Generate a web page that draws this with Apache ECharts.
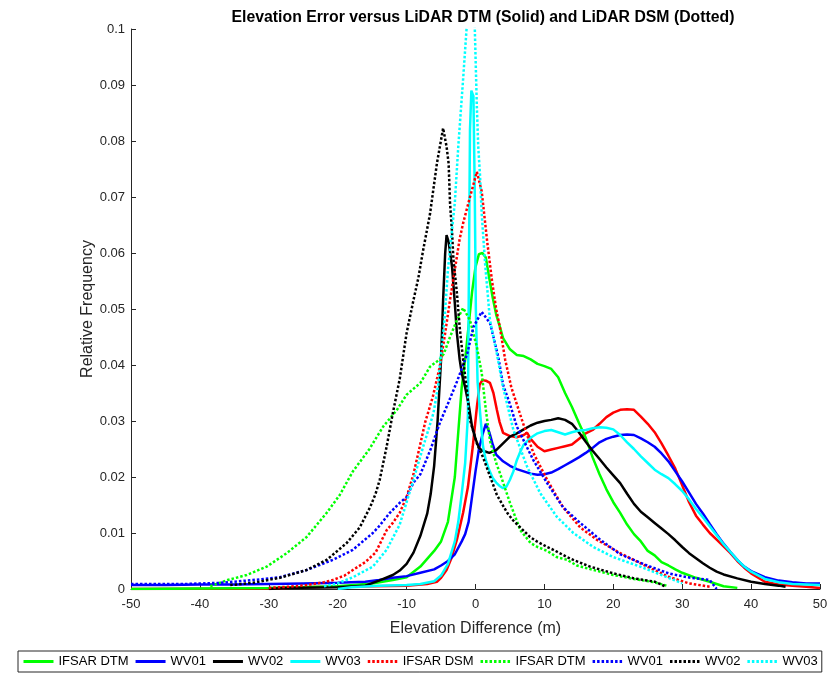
<!DOCTYPE html>
<html>
<head>
<meta charset="utf-8">
<script src="https://cdn.jsdelivr.net/npm/echarts@6/dist/echarts.min.js"></script>
<style>
html,body{margin:0;padding:0;background:#fff;}
#chart{width:838px;height:674px;}
</style>
</head>
<body>
<div id="chart"></div>
<script>
// ---- Data ----
const xTicks = [-50, -40, -30, -20, -10, 0, 10, 20, 30, 40, 50];

// IFSAR DTM vs LiDAR DTM (solid green)
const dtmIfsarX = [-50,-40,-30,-20,-15,-12,-10,-8,-6,-5,-4,-3,-2.5,-2,-1.5,-1,-0.5,0,0.5,1,1.5,2,2.5,3,3.5,4,5,6,7,8,9,10,11,12,13,14,15,16,17,18,19,20,21,22,23,24,25,26,27,28,29,30,32,34,36,38];
const dtmIfsarY = [0,0.0001,0.0002,0.0005,0.001,0.0016,0.0021,0.004,0.0068,0.0085,0.012,0.02,0.028,0.036,0.041,0.047,0.053,0.0575,0.0598,0.06,0.0592,0.0555,0.052,0.049,0.047,0.0448,0.0428,0.0418,0.0416,0.041,0.0402,0.0398,0.0393,0.0378,0.035,0.0325,0.0297,0.027,0.0235,0.0205,0.0178,0.0155,0.0136,0.0115,0.0098,0.0085,0.0068,0.006,0.0048,0.0042,0.0035,0.0029,0.002,0.0013,0.0005,0.0002];

// WV01 vs DTM (solid blue)
const dtmWv01X = [-50,-45,-40,-35,-30,-25,-20,-16,-14,-12,-10,-8,-6,-5,-4,-3,-2,-1.5,-1,-0.5,0,0.5,1,1.5,2,2.5,3,4,5,6,7,8,9,10,11,12,13,14,15,16,17,18,19,20,21,22,23,24,25,26,27,28,29,30,31,32,33,34,35,36,37,38,39,40,42,44,46,48,50];
const dtmWv01Y = [0.0007,0.0007,0.0008,0.0008,0.0009,0.001,0.0011,0.0013,0.0016,0.002,0.0023,0.0029,0.0035,0.0042,0.005,0.0062,0.0085,0.0098,0.012,0.0165,0.021,0.025,0.0275,0.0295,0.028,0.0258,0.024,0.0228,0.022,0.0214,0.021,0.0206,0.0204,0.0205,0.0208,0.0214,0.0221,0.0228,0.0235,0.0243,0.0252,0.0262,0.0268,0.0272,0.0275,0.0276,0.0275,0.0269,0.0262,0.0254,0.0242,0.0228,0.021,0.0192,0.0172,0.0152,0.0135,0.0116,0.0098,0.0081,0.0066,0.0052,0.004,0.0032,0.0021,0.0015,0.0012,0.001,0.001];

// WV02 vs DTM (solid black)
const dtmWv02X = [-30,-28,-20,-16,-14,-12,-11,-10,-9,-8,-7,-6.5,-6,-5.5,-5,-4.7,-4.4,-4.2,-3.9,-3.4,-3,-2.7,-2.3,-2,-1.5,-1,-0.5,0,0.5,1,1.5,2,3,4,5,6,7,8,9,10,11,12,13,14,15,16,17,18,19,20,21,22,23,24,25,26,27,28,29,30,31,32,33,34,35,36,38,40,42,44,45];
const dtmWv02Y = [0,0.0002,0.0003,0.0006,0.0015,0.0025,0.0033,0.0045,0.0065,0.0095,0.0135,0.017,0.022,0.03,0.041,0.0516,0.06,0.0632,0.062,0.0575,0.051,0.0457,0.041,0.0386,0.036,0.033,0.029,0.0268,0.0252,0.0247,0.0245,0.0243,0.0248,0.026,0.0272,0.0278,0.0285,0.0292,0.0297,0.03,0.0302,0.0305,0.0302,0.0295,0.028,0.0263,0.0247,0.0232,0.0217,0.0203,0.0189,0.017,0.0152,0.0138,0.0128,0.0118,0.0108,0.0098,0.0087,0.0075,0.0064,0.0055,0.0046,0.0038,0.0031,0.0026,0.0019,0.0013,0.0009,0.0006,0.0004];

// WV03 vs DTM (solid cyan)
const dtmWv03X = [-20,-18,-14,-10,-8,-6,-5,-4,-3,-2.5,-2,-1.5,-1.1,-0.95,-0.8,-0.6,-0.3,-0.1,0.05,0.3,0.7,1.1,1.5,2,2.5,3,3.5,4,4.5,5,5.5,6,6.5,7,8,9,10,11,12,13,14,15,16,17,18,19,20,21,22,23,24,25,26,27,28,29,30,31,32,33,34,35,36,37,38,39,40,42,44,46,48,50];
const dtmWv03Y = [0,0.0003,0.0006,0.0007,0.0009,0.0014,0.0024,0.0045,0.0085,0.012,0.017,0.0225,0.031,0.058,0.082,0.089,0.088,0.07,0.05,0.037,0.031,0.0254,0.023,0.0212,0.0198,0.019,0.0184,0.018,0.0183,0.0195,0.021,0.023,0.0245,0.0258,0.027,0.0278,0.0282,0.0284,0.028,0.0276,0.028,0.0283,0.0284,0.0287,0.0289,0.0288,0.0285,0.0275,0.0262,0.025,0.0237,0.0225,0.0213,0.0205,0.0198,0.0187,0.0175,0.016,0.0143,0.0128,0.0112,0.0096,0.008,0.0066,0.0052,0.004,0.0031,0.0018,0.0012,0.0009,0.0008,0.0007];

// IFSAR DSM vs DTM (solid red, not in legend)
const dtmIfsarDsmX = [-50,-30,-25,-20,-15,-10,-7,-5.6,-5,-4.2,-3.5,-2.7,-1.8,-1.1,-0.4,0.2,0.6,1,1.5,2.1,2.6,3.1,3.5,4,5,6,7,7.5,8,9,10,11,12,13,14,15,16,17,18,19,20,21,22,23,24,25,26,27,28,29,30,31,32,33,34,35,36,37,38,39,40,42,44,46,48,50];
const dtmIfsarDsmY = [0,0.0001,0.0003,0.0004,0.0005,0.0006,0.0009,0.0013,0.002,0.0034,0.0055,0.0088,0.0136,0.0182,0.0254,0.0325,0.0365,0.0373,0.0372,0.0368,0.035,0.032,0.0298,0.0279,0.0273,0.0271,0.0275,0.0279,0.0268,0.0254,0.0246,0.0249,0.0252,0.0255,0.0258,0.0268,0.0278,0.0284,0.0295,0.0307,0.0315,0.032,0.0321,0.032,0.0308,0.0295,0.028,0.026,0.0238,0.0215,0.0185,0.0155,0.0131,0.0115,0.01,0.0088,0.0076,0.0064,0.005,0.0038,0.0028,0.0013,0.0008,0.0006,0.0004,0.0002];

// IFSAR DSM vs LiDAR DSM (dotted red)
const dsmIfsarDsmX = [-30,-26,-24.5,-22,-20.7,-19,-17.8,-16,-14.5,-12.9,-12,-11,-10,-9,-8.1,-7.3,-6.2,-5.2,-4.4,-3.7,-3,-2.3,-1.8,-0.8,0.2,0.9,1.7,2.4,3,3.5,4.3,5.2,6.9,8.4,10.4,12.7,15.2,17.6,21,24.9,28,31,34];
const dsmIfsarDsmY = [0.0002,0.0005,0.0007,0.0012,0.0016,0.0024,0.0034,0.0048,0.0065,0.0105,0.0118,0.0136,0.0164,0.0205,0.0254,0.0298,0.0343,0.0396,0.0457,0.0516,0.057,0.0625,0.0653,0.07,0.0745,0.071,0.062,0.055,0.05,0.047,0.041,0.036,0.0296,0.0243,0.0195,0.0146,0.011,0.0088,0.0064,0.004,0.0022,0.001,0.0004];

// IFSAR DTM vs LiDAR DSM (dotted green)
const dsmIfsarDtmX = [-38.5,-36,-33.2,-30.3,-27.4,-24.5,-21.6,-19.7,-17.8,-15.5,-13.4,-11.4,-10,-8,-6.6,-5.2,-4.6,-3.7,-2.7,-1.8,-0.8,0.2,0.9,1.5,2.1,3,3.6,5,6.5,8,9,10.4,11.8,13.3,14.7,17.1,20,23,26,28];
const dsmIfsarDtmY = [0.0005,0.0016,0.0025,0.004,0.0064,0.0093,0.0136,0.0168,0.021,0.0248,0.029,0.032,0.0347,0.0368,0.0397,0.041,0.042,0.045,0.048,0.0502,0.048,0.0432,0.0386,0.032,0.0265,0.0225,0.0205,0.0154,0.0105,0.0082,0.0075,0.0068,0.0057,0.0052,0.0042,0.0034,0.0025,0.0018,0.0012,0.0005];

// WV01 vs LiDAR DSM (dotted blue)
const dsmWv01X = [-50,-42,-37,-32.3,-28.4,-24.5,-20.7,-17.8,-14.9,-14,-12.5,-11,-10,-9,-8,-6.5,-5.2,-4.1,-2.7,-1.2,-0.3,0.9,2.1,3.3,4,5,6,8.4,10.4,12.7,15.2,18.1,21,24.9,28,30.7,34,35];
const dsmWv01Y = [0.0009,0.0009,0.0011,0.0016,0.0021,0.0034,0.0052,0.007,0.01,0.0112,0.0135,0.0154,0.0164,0.019,0.0205,0.025,0.0296,0.0328,0.037,0.042,0.0468,0.0495,0.0475,0.0415,0.0365,0.033,0.029,0.023,0.0189,0.0146,0.0118,0.0088,0.0062,0.0042,0.0028,0.0021,0.0016,0];

// WV02 vs LiDAR DSM (dotted black)
const dsmWv02X = [-35.6,-32.3,-28.4,-24.5,-21.6,-18.7,-16.8,-15.3,-14.5,-13.9,-12.9,-12,-11,-10,-9,-8.3,-7.6,-6.6,-5.6,-4.7,-4.2,-3.9,-3.7,-3.4,-3.2,-2.7,-2.3,-1.8,-1.2,-0.8,0.2,1.1,1.7,3.1,4.6,5.5,6.5,7.9,8.9,10.4,11.3,13.3,14.2,16.6,20,23,26,27.5];
const dsmWv02Y = [0.0007,0.0011,0.002,0.0034,0.0052,0.0082,0.011,0.0146,0.017,0.0195,0.0254,0.0314,0.0375,0.0457,0.0516,0.0555,0.0605,0.067,0.076,0.0823,0.079,0.076,0.069,0.0636,0.0588,0.0529,0.0468,0.041,0.035,0.0302,0.026,0.0235,0.0215,0.0168,0.0136,0.0122,0.011,0.0093,0.0085,0.0075,0.007,0.0057,0.0052,0.004,0.0028,0.0019,0.0013,0.0005];

// WV03 vs LiDAR DSM (dotted cyan)
const dsmWv03X = [-22,-20,-17.8,-14.9,-12.9,-11,-9,-7.6,-6.1,-5.4,-5,-4.5,-4,-3.5,-3,-2.5,-1.8,-1.3,-0.7,-0.1,0.2,0.4,0.65,0.9,1.4,2.1,3.1,4,5.5,7.5,9.4,11.8,14.2,17.1,20,23.9,27,30];
const dsmWv03Y = [0.0005,0.001,0.0021,0.004,0.007,0.0115,0.0195,0.0254,0.0314,0.0365,0.042,0.048,0.057,0.063,0.069,0.079,0.091,0.1,0.115,0.1,0.086,0.079,0.074,0.067,0.058,0.048,0.042,0.036,0.0284,0.0218,0.0171,0.0129,0.01,0.0075,0.0057,0.004,0.0025,0.001];

// ---- Chart ----
const zip = (xs, ys) => xs.map((x, i) => [x, ys[i]]);
const GREEN = '#00ff00', BLUE = '#0000ff', BLACK = '#000000', CYAN = '#00ffff', RED = '#ff0000';
const DOT = [2.5, 2];

function mk(name, xs, ys, color, dotted) {
  return {
    name: name,
    type: 'line',
    data: zip(xs, ys),
    showSymbol: false,
    symbol: 'none',
    smooth: false,
    animation: false,
    lineStyle: { color: color, width: 2.5, type: dotted ? DOT : 'solid' },
    itemStyle: { color: color },
    emphasis: { disabled: true }
  };
}

const series = [
  mk('IFSAR DSM|dtm', dtmIfsarDsmX, dtmIfsarDsmY, RED, false),
  mk('IFSAR DTM|dtm', dtmIfsarX, dtmIfsarY, GREEN, false),
  mk('WV01|dtm', dtmWv01X, dtmWv01Y, BLUE, false),
  mk('WV02|dtm', dtmWv02X, dtmWv02Y, BLACK, false),
  mk('WV03|dtm', dtmWv03X, dtmWv03Y, CYAN, false),
  mk('IFSAR DSM|dsm', dsmIfsarDsmX, dsmIfsarDsmY, RED, true),
  mk('IFSAR DTM|dsm', dsmIfsarDtmX, dsmIfsarDtmY, GREEN, true),
  mk('WV01|dsm', dsmWv01X, dsmWv01Y, BLUE, true),
  mk('WV02|dsm', dsmWv02X, dsmWv02Y, BLACK, true),
  mk('WV03|dsm', dsmWv03X, dsmWv03Y, CYAN, true)
];

const legendNames = ['IFSAR DTM|dtm','WV01|dtm','WV02|dtm','WV03|dtm','IFSAR DSM|dsm','IFSAR DTM|dsm','WV01|dsm','WV02|dsm','WV03|dsm'];

const chart = echarts.init(document.getElementById('chart'), null, { renderer: 'canvas' });
const AX = '#262626';
chart.setOption({
  backgroundColor: '#ffffff',
  animation: false,
  title: {
    text: 'Elevation Error versus LiDAR DTM (Solid) and LiDAR DSM (Dotted)',
    left: 478, top: 5, textAlign: 'center',
    textStyle: { fontFamily: 'Liberation Sans', fontWeight: 'bold', fontSize: 15.8, color: '#000' }
  },
  grid: { left: 131, right: 18, top: 29, bottom: 85, containLabel: false },
  xAxis: {
    type: 'value', min: -50, max: 50, interval: 10,
    name: 'Elevation Difference (m)', nameLocation: 'middle', nameGap: 32,
    nameTextStyle: { fontFamily: 'Liberation Sans', fontSize: 16, color: AX },
    axisLine: { onZero: false, lineStyle: { color: AX, width: 1 } },
    axisTick: { inside: true, length: 5, lineStyle: { color: AX } },
    axisLabel: { fontFamily: 'Liberation Sans', fontSize: 13, color: AX, margin: 9,
      formatter: v => xTicks.includes(v) ? String(v) : '' },
    splitLine: { show: false }
  },
  yAxis: {
    type: 'value', min: 0, max: 0.1, interval: 0.01,
    name: 'Relative Frequency', nameLocation: 'middle', nameGap: 35,
    nameMoveOverlap: false,
    nameTextStyle: { fontFamily: 'Liberation Sans', fontSize: 16, color: AX },
    axisLine: { show: true, onZero: false, lineStyle: { color: AX, width: 1 } },
    axisTick: { show: true, inside: true, length: 5, lineStyle: { color: AX } },
    axisLabel: { fontFamily: 'Liberation Sans', fontSize: 13, color: AX, margin: 6,
      formatter: v => String(+v.toFixed(2)) },
    splitLine: { show: false }
  },
  legend: {
    data: legendNames,
    formatter: n => n.split('|')[0],
    orient: 'horizontal',
    left: 18, top: 651,
    itemWidth: 30, itemHeight: 12, itemGap: 5.5,
    padding: [4, 4, 4, 4],
    borderColor: AX, borderWidth: 1,
    itemStyle: { opacity: 0 },
    lineStyle: { width: 3 },
    textStyle: { fontFamily: 'Liberation Sans', fontSize: 13, color: '#000' },
    selectedMode: false
  },
  series: series
});
</script>
</body>
</html>
